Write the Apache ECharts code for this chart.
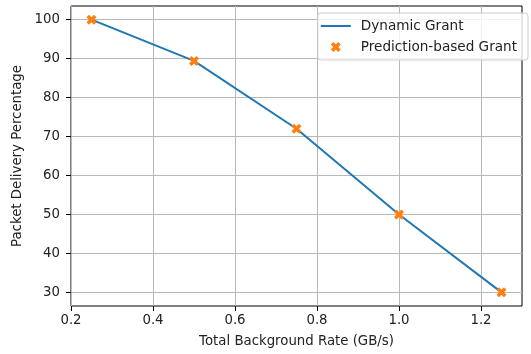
<!DOCTYPE html>
<html>
<head>
<meta charset="utf-8">
<script src="https://cdn.jsdelivr.net/npm/echarts@6/dist/echarts.min.js"></script>
<style>
  html, body {margin: 0; padding: 0; background: #fff;}
  #chart {width: 531px; height: 354px;}
</style>
</head>
<body>
<div id="chart"></div>
<script>
const rates = [0.25, 0.5, 0.75, 1.0, 1.25]
const dynamicGrant = [100, 89.4, 72, 50, 30]
const predictionGrant = [100, 89.4, 72, 50, 30]
const xTicks = [0.2, 0.4, 0.6, 0.8, 1.0, 1.2]
const yTicks = [30, 40, 50, 60, 70, 80, 90, 100]

const font = 'DejaVu Sans'
const fs = 13.3
const txt = '#222'
// filled "X" marker like matplotlib's
const xMark = 'path://M0,1 L1,0 L2,1 L3,0 L4,1 L3,2 L4,3 L3,4 L2,3 L1,4 L0,3 L1,2 Z'
const lineIcon = 'path://M0,0 L30,0 L30,2 L0,2 Z'

const chart = echarts.init(document.getElementById('chart'))

chart.setOption({
    animation: false,
    textStyle: {fontFamily: font},
    grid: {
        left: 71, right: 9, top: 6, bottom: 48,
        show: true,
        borderColor: '#000',
        borderWidth: 1
    },
    legend: {
        orient: 'vertical',
        right: 3,
        top: 13,
        itemWidth: 30,
        itemHeight: 10,
        itemGap: 7,
        padding: [6, 11, 6, 3],
        backgroundColor: 'rgba(255,255,255,0.8)',
        borderColor: '#cccccc',
        borderWidth: 1,
        borderRadius: 3,
        textStyle: {fontFamily: font, fontSize: 13.6, color: txt, padding: [0, 0, 0, 5]},
        data: [
            {name: 'Dynamic Grant', icon: lineIcon},
            {name: 'Prediction-based Grant', icon: xMark}
        ]
    },
    xAxis: {
        type: 'value',
        min: 0.2,
        max: 1.3,
        interval: 0.2,
        name: 'Total Background Rate (GB/s)',
        nameLocation: 'middle',
        nameGap: 29,
        nameTextStyle: {fontFamily: font, fontSize: fs, color: txt},
        axisLine: {show: false},
        axisTick: {show: true, inside: false, length: 5, customValues: xTicks, lineStyle: {color: '#000'}},
        axisLabel: {
            customValues: xTicks,
            margin: 8,
            fontSize: fs,
            color: txt,
            fontFamily: font,
            formatter: v => v.toFixed(1)
        },
        splitLine: {show: true, lineStyle: {color: '#b8b8b8', width: 1}}
    },
    yAxis: {
        type: 'value',
        min: 26.5,
        max: 103.5,
        name: 'Packet Delivery Percentage',
        nameLocation: 'middle',
        nameGap: 39,
        nameTextStyle: {fontFamily: font, fontSize: fs, color: txt},
        axisLine: {show: false},
        axisTick: {show: true, inside: false, length: 5, customValues: yTicks, lineStyle: {color: '#000'}},
        axisLabel: {
            customValues: yTicks,
            margin: 11,
            fontSize: fs,
            color: txt,
            fontFamily: font
        },
        splitLine: {show: true, lineStyle: {color: '#b8b8b8', width: 1}}
    },
    series: [
        {
            name: 'Dynamic Grant',
            type: 'line',
            data: rates.map((r, i) => [r, dynamicGrant[i]]),
            symbol: 'none',
            lineStyle: {color: '#1f77b4', width: 2},
            itemStyle: {color: '#1f77b4'},
            z: 2
        },
        {
            name: 'Prediction-based Grant',
            type: 'scatter',
            data: rates.map((r, i) => [r, predictionGrant[i]]),
            symbol: xMark,
            symbolSize: 10,
            itemStyle: {color: '#ff7f0e', opacity: 1},
            z: 3
        }
    ]
})
</script>
</body>
</html>
